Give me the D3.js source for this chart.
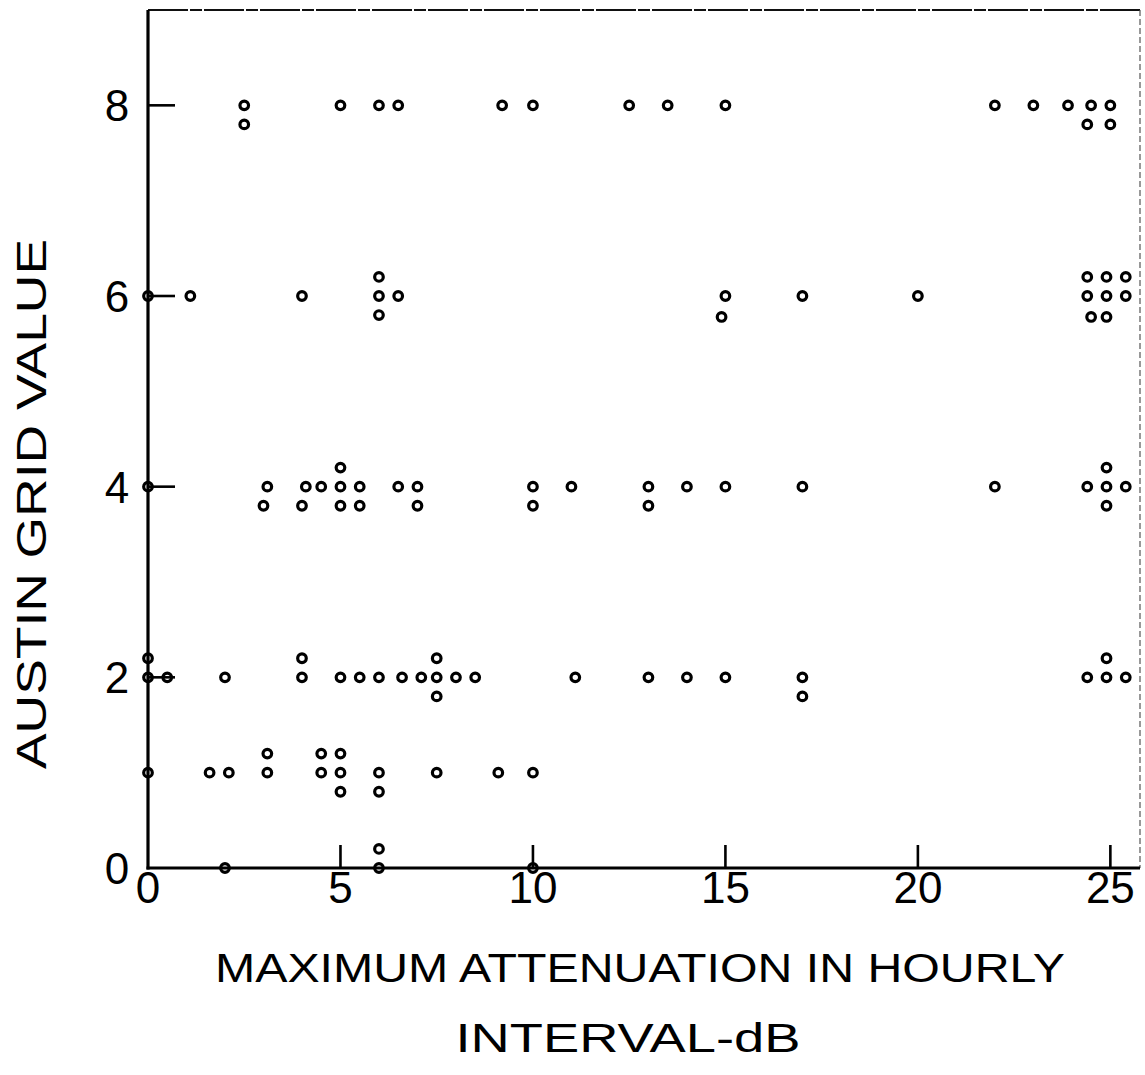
<!DOCTYPE html>
<html>
<head>
<meta charset="utf-8">
<script src="https://cdn.jsdelivr.net/npm/d3@7/dist/d3.min.js"></script>
<style>
  html, body { margin: 0; padding: 0; background: #fff; }
  svg { display: block; }
</style>
</head>
<body>
<svg id="chart" width="1145" height="1075"></svg>
<script>
// ---- data; y values include the visual stacking of duplicates ----
const xTicks = [0, 5, 10, 15, 20, 25];
const yTicks = [0, 2, 4, 6, 8];
const xTickLabels = ["0", "5", "10", "15", "20", "25"];
const yTickLabels = ["0", "2", "4", "6", "8"];
const xTitleLines = ["MAXIMUM  ATTENUATION  IN  HOURLY", "INTERVAL-dB"];
const yTitle = "AUSTIN  GRID  VALUE";

const grid8 = [[2.5,8],[2.5,7.8],[5,8],[6,8],[6.5,8],[9.2,8],[10,8],[12.5,8],[13.5,8],[15,8],
  [22,8],[23,8],[23.9,8],[24.5,8],[25,8],[24.4,7.8],[25,7.8]];
const grid6 = [[0,6],[1.1,6],[4,6],[6,6.2],[6,6],[6.5,6],[6,5.8],[15,6],[14.9,5.78],[17,6],[20,6],
  [24.4,6.2],[24.9,6.2],[25.4,6.2],[24.4,6],[24.9,6],[25.4,6],[24.5,5.78],[24.9,5.78]];
const grid4 = [[0,4],[3.1,4],[4.1,4],[4.5,4],[5,4],[5.5,4],[6.5,4],[7,4],[10,4],[11,4],[13,4],[14,4],
  [15,4],[17,4],[22,4],[24.4,4],[24.9,4],[25.4,4],
  [3,3.8],[4,3.8],[5,3.8],[5.5,3.8],[7,3.8],[10,3.8],[13,3.8],[24.9,3.8],[5,4.2],[24.9,4.2]];
const grid2 = [[0,2.2],[0,2],[0.5,2],[2,2],[4,2],[5,2],[5.5,2],[6,2],[6.6,2],[7.1,2],[7.5,2],[8,2],
  [8.5,2],[11.1,2],[13,2],[14,2],[15,2],[17,2],[24.4,2],[24.9,2],[25.4,2],
  [4,2.2],[7.5,2.2],[7.5,1.8],[17,1.8],[24.9,2.2]];
const grid1 = [[0,1],[1.6,1],[2.1,1],[3.1,1],[4.5,1],[5,1],[6,1],[7.5,1],[9.1,1],[10,1],
  [3.1,1.2],[4.5,1.2],[5,1.2],[5,0.8],[6,0.8]];
const grid0 = [[2,0],[6,0],[6,0.2],[10,0]];

const allPoints = [].concat(grid8, grid6, grid4, grid2, grid1, grid0);

// ---- layout ----
const svg = d3.select("#chart");
const plotLeft = 148, plotRight = 1140, plotTop = 10, plotBottom = 868;
const x = d3.scaleLinear().domain([0, 25.77]).range([plotLeft, plotRight]);
const y = d3.scaleLinear().domain([0, 9]).range([plotBottom, plotTop]);
const font = "'Liberation Sans', Arial, sans-serif";

// frame (top and right, lighter)
svg.append("line").attr("x1", plotLeft).attr("x2", plotRight).attr("y1", plotTop).attr("y2", plotTop)
  .attr("stroke", "#111").attr("stroke-width", 2.2).attr("stroke-dasharray", "40,2,12,2");
svg.append("line").attr("x1", plotRight).attr("x2", plotRight).attr("y1", plotTop).attr("y2", plotBottom)
  .attr("stroke", "#555").attr("stroke-width", 1.2).attr("stroke-dasharray", "6,3");

// points
svg.append("g").selectAll("circle").data(allPoints).join("circle")
  .attr("cx", d => x(d[0])).attr("cy", d => y(d[1])).attr("r", 4.3)
  .attr("fill", "#fff").attr("stroke", "#000").attr("stroke-width", 3.2);

// axes lines
svg.append("line").attr("x1", plotLeft).attr("x2", plotLeft).attr("y1", plotTop).attr("y2", plotBottom + 1.5)
  .attr("stroke", "#000").attr("stroke-width", 3.2);
svg.append("line").attr("x1", plotLeft - 1.5).attr("x2", plotRight).attr("y1", plotBottom).attr("y2", plotBottom)
  .attr("stroke", "#000").attr("stroke-width", 3.2);

// y ticks (inward)
svg.append("g").selectAll("line").data(yTicks.filter(v => v > 0)).join("line")
  .attr("x1", plotLeft).attr("x2", plotLeft + 27).attr("y1", d => y(d)).attr("y2", d => y(d))
  .attr("stroke", "#000").attr("stroke-width", 2.6);
// x ticks (inward)
svg.append("g").selectAll("line").data(xTicks.filter(v => v > 0)).join("line")
  .attr("x1", d => x(d)).attr("x2", d => x(d)).attr("y1", plotBottom).attr("y2", plotBottom - 23)
  .attr("stroke", "#000").attr("stroke-width", 2.6);

// tick labels
svg.append("g").selectAll("text").data(yTicks).join("text")
  .attr("x", 117).attr("y", d => y(d) + 16)
  .attr("text-anchor", "middle").attr("font-family", font).attr("font-size", 44)
  .text((d, i) => yTickLabels[i]);
svg.append("g").selectAll("text").data(xTicks).join("text")
  .attr("x", d => x(d)).attr("y", 903)
  .attr("text-anchor", "middle").attr("font-family", font).attr("font-size", 44)
  .text((d, i) => xTickLabels[i]);

// axis titles
svg.append("text")
  .attr("transform", "translate(46,504) rotate(-90)")
  .attr("text-anchor", "middle").attr("font-family", font).attr("font-size", 42)
  .attr("textLength", 530).attr("lengthAdjust", "spacingAndGlyphs")
  .text(yTitle);
svg.append("text").attr("x", 640).attr("y", 982)
  .attr("text-anchor", "middle").attr("font-family", font).attr("font-size", 40)
  .attr("textLength", 850).attr("lengthAdjust", "spacingAndGlyphs")
  .text(xTitleLines[0]);
svg.append("text").attr("x", 628).attr("y", 1052)
  .attr("text-anchor", "middle").attr("font-family", font).attr("font-size", 40)
  .attr("textLength", 345).attr("lengthAdjust", "spacingAndGlyphs")
  .text(xTitleLines[1]);
</script>
</body>
</html>
